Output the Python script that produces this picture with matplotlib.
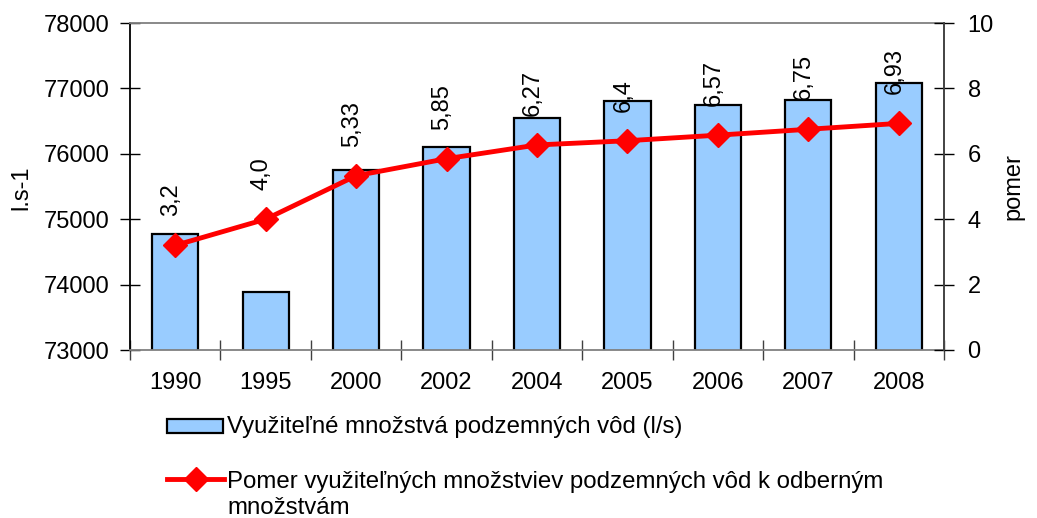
import matplotlib
matplotlib.use("Agg")
import matplotlib.pyplot as plt
from matplotlib.patches import Rectangle
from matplotlib.lines import Line2D
from matplotlib.ticker import FixedLocator, NullFormatter

plt.rcParams['font.family'] = ['Liberation Sans', 'DejaVu Sans']

years = ["1990", "1995", "2000", "2002", "2004", "2005", "2006", "2007", "2008"]
available = [74770, 73880, 75750, 76110, 76540, 76810, 76750, 76830, 77080]
ratio = [3.2, 4.0, 5.33, 5.85, 6.27, 6.4, 6.57, 6.75, 6.93]
ratio_labels = ["3,2", "4,0", "5,33", "5,85", "6,27", "6,4", "6,57", "6,75", "6,93"]
left_ticks = [73000, 74000, 75000, 76000, 77000, 78000]
right_ticks = [0, 2, 4, 6, 8, 10]
bar_name = "Využiteľné množstvá podzemných vôd (l/s)"
line_name_1 = "Pomer využiteľných množstviev podzemných vôd k odberným"
line_name_2 = "množstvám"

W, H = 1037, 518
FS = 17.0
LFS = 17.3
fig = plt.figure(figsize=(W / 100, H / 100), dpi=100)

def fx(px):
    return px / W

def fy(py):
    return 1 - py / H

ax = fig.add_axes([fx(130), fy(350), fx(944) - fx(130), fy(23) - fy(350)])
x = list(range(len(years)))
ax.bar(x, available, width=0.51, color="#99CCFF", edgecolor="black", linewidth=1.6, zorder=2)
ax.set_ylim(73000, 78000)
ax.set_xlim(-0.5, len(years) - 0.5)
ax.set_yticks(left_ticks)
ax.set_yticklabels([str(t) for t in left_ticks], fontsize=FS)
ax.set_xticks(x)
ax.set_xticklabels(years, fontsize=FS)
ax.tick_params(axis='x', which='major', length=0, pad=16)
ax.xaxis.set_minor_locator(FixedLocator([i - 0.5 for i in range(len(years) + 1)]))
ax.xaxis.set_minor_formatter(NullFormatter())
ax.tick_params(axis='x', which='minor', direction='inout', length=14, width=1, color="#404040")
ax.tick_params(axis='y', direction='inout', length=14, width=1, pad=8)

for side in ['top', 'right', 'bottom']:
    ax.spines[side].set_color("#808080")
    ax.spines[side].set_linewidth(1.3)
ax.spines['left'].set_color("black")
ax.spines['left'].set_linewidth(1.3)

ax2 = ax.twinx()
ax2.plot(x, ratio, color="#FF0000", linewidth=3.5, marker="D", markersize=12.5,
         markerfacecolor="#FF0000", markeredgecolor="#FF0000", zorder=3)
ax2.set_ylim(0, 10)
ax2.set_yticks(right_ticks)
ax2.set_yticklabels([str(t) for t in right_ticks], fontsize=FS)
ax2.tick_params(axis='y', direction='inout', length=14, width=1, pad=10)
for side in ['top', 'left', 'bottom']:
    ax2.spines[side].set_visible(False)
ax2.spines['right'].set_color("#404040")
ax2.spines['right'].set_linewidth(1.3)

for xi, v, lab in zip(x, ratio, ratio_labels):
    ax2.annotate(lab, (xi, v), xytext=(-3, 21), textcoords='offset points',
                 rotation=90, ha='center', va='bottom', fontsize=FS)

fig.text(fx(21), fy(188), "l.s-1", rotation=90, ha='center', va='center', fontsize=FS)
fig.text(fx(1013), fy(187), "pomer", rotation=90, ha='center', va='center', fontsize=FS)

# legend drawn in figure space
fig.patches.append(Rectangle((fx(167), fy(433)), fx(223) - fx(167), fy(419) - fy(433),
                             transform=fig.transFigure, facecolor="#99CCFF",
                             edgecolor="black", linewidth=1.6))
fig.text(fx(227), fy(427), bar_name, ha='left', va='center', fontsize=LFS)
fig.lines.append(Line2D([fx(167), fx(224)], [fy(479), fy(479)], transform=fig.transFigure,
                        color="#FF0000", linewidth=3.5))
fig.lines.append(Line2D([fx(196)], [fy(479)], transform=fig.transFigure, color="#FF0000",
                        marker="D", markersize=12.5, linestyle='none'))
fig.text(fx(227), fy(482), line_name_1, ha='left', va='center', fontsize=LFS)
fig.text(fx(227), fy(508), line_name_2, ha='left', va='center', fontsize=LFS)

fig.savefig("out.png", dpi=100)
